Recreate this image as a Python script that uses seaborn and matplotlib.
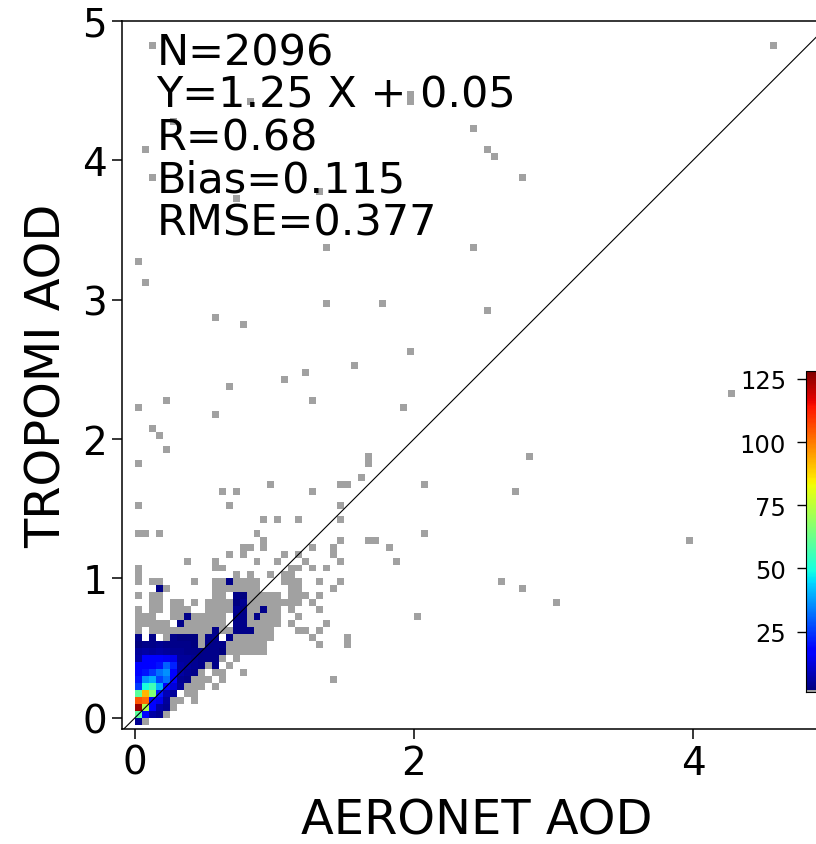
import matplotlib
matplotlib.use("Agg")
import matplotlib.pyplot as plt
from matplotlib.colors import ListedColormap
import numpy as np
import pandas as pd
import seaborn as sns

# bin size of the 2-D histogram (AOD units)
bw = 0.05

# counts per bin near the origin, one list per TROPOMI bin row,
# first row is the bin -0.05..0, then 0..0.05, ...; entries go along AERONET bins 0, 0.05, ...
core_rows = [
    [4, 1],
    [60, 18, 6, 4, 1],
    [125, 72, 16, 6, 4, 1],
    [105, 102, 16, 14, 5, 1, 1, 0, 1],
    [60, 92, 66, 20, 8, 5, 0, 1, 1],
    [25, 50, 56, 40, 16, 12, 5, 1, 1, 1, 0, 1],
    [20, 36, 40, 26, 32, 16, 4, 3, 1, 1, 1, 0, 1],
    [18, 20, 25, 32, 36, 16, 6, 4, 3, 1, 0, 1, 1, 0, 0, 1],
    [16, 16, 18, 20, 30, 22, 6, 5, 4, 3, 1, 3, 0, 1],
    [6, 16, 16, 16, 15, 14, 5, 5, 4, 3, 3, 3, 1, 0, 1],
    [5, 6, 5, 6, 5, 4, 4, 3, 3, 3, 3, 3, 2, 1, 1, 1, 1, 1, 1],
    [2, 3, 3, 4, 3, 3, 3, 3, 2, 1, 3, 3, 3, 1, 1, 1, 1, 1, 1],
    [3, 0, 3, 0, 1, 3, 2, 2, 2, 1, 3, 4, 0, 3, 1, 1, 1, 1, 1, 1],
    [1, 0, 1, 1, 1, 1, 1, 1, 1, 1, 1, 3, 1, 1, 3, 3, 3, 1, 1, 1, 0, 0, 0, 1, 1],
    [1, 1, 1, 1, 1, 0, 3, 1, 1, 1, 1, 1, 1, 0, 3, 3, 1, 1, 1, 1, 1, 0, 1],
    [1, 1, 1, 0, 0, 1, 1, 3, 1, 1, 1, 1, 1, 0, 3, 3, 1, 3, 1, 1, 1, 0, 0, 1],
    [1, 0, 1, 1, 0, 1, 1, 1, 0, 0, 1, 1, 1, 1, 4, 3, 1, 1, 3, 1, 1, 0, 1],
    [0, 0, 1, 1, 0, 1, 1, 0, 1, 0, 1, 1, 1, 1, 2, 4, 1, 1, 1, 1, 1, 1, 1, 1],
    [1, 0, 1, 1, 0, 0, 0, 0, 0, 0, 0, 1, 1, 0, 3, 2, 1, 1, 1, 1, 1, 0, 1, 1, 1],
    [0, 0, 0, 3, 1, 0, 0, 0, 0, 0, 0, 1, 1, 1, 1, 1, 1, 1, 0, 0, 0, 0, 1, 1],
    [1, 0, 1, 1, 0, 0, 0, 0, 1, 0, 0, 1, 1, 3, 1, 1, 1, 1, 0, 0, 0, 1, 1, 1],
    [1, 0, 0, 0, 0, 0, 0, 0, 0, 0, 0, 0, 0, 0, 1, 0, 1, 0, 0, 1, 0, 1, 1],
    [1, 0, 0, 0, 0, 0, 0, 0, 0, 0, 0, 1, 1, 0, 0, 0, 0, 0, 0, 0, 0, 0, 1, 1],
    [0, 0, 0, 0, 0, 0, 0, 1, 0, 0, 0, 1, 0, 0, 0, 0, 0, 1, 0, 0, 1, 0, 0, 0, 1],
    [0, 0, 0, 0, 0, 0, 0, 0, 0, 0, 0, 0, 0, 1, 0, 1, 0, 0, 0, 0, 0, 1, 0, 1],
    [0, 0, 0, 0, 0, 0, 0, 0, 0, 0, 0, 0, 0, 0, 0, 1, 1, 0, 1],
]

# single matchups further out (bin centres)
sparse_x = [0.125, 4.575, 1.975, 1.975, 0.825, 0.275, 2.425, 0.075, 2.525, 2.575,
            0.125, 2.775, 1.325, 0.725, 1.375, 2.425, 0.025, 0.075, 1.375, 1.775,
            2.525, 0.575, 0.775, 1.975, 1.575, 1.225, 1.075, 0.675, 4.275, 0.225,
            1.275, 0.025, 1.925, 0.575, 0.125, 0.175, 0.225, 2.825, 1.675, 0.025,
            1.675, 1.625, 0.975, 1.475, 1.525, 2.075, 0.625, 0.725, 1.275, 2.725,
            0.025, 0.675, 1.475, 0.925, 1.025, 1.175, 1.475, 0.025, 0.075, 0.175,
            0.875, 2.075, 0.925, 1.475, 1.675, 1.725, 3.975, 1.275, 1.425, 1.825,
            1.425, 1.475, 1.875, 1.275, 1.375, 1.325, 1.475, 2.625, 1.425, 2.775,
            1.325, 3.025, 1.275, 1.325, 2.025, 1.375, 1.325, 1.275, 1.525, 1.525,
            1.325, 1.425]
sparse_y = [4.825, 4.825, 4.475, 4.425, 4.425, 4.275, 4.225, 4.075, 4.075, 4.025,
            3.875, 3.875, 3.775, 3.725, 3.375, 3.375, 3.275, 3.125, 2.975, 2.975,
            2.925, 2.875, 2.825, 2.625, 2.525, 2.475, 2.425, 2.375, 2.325, 2.275,
            2.275, 2.225, 2.225, 2.175, 2.075, 2.025, 1.925, 1.875, 1.875, 1.825,
            1.825, 1.725, 1.675, 1.675, 1.675, 1.675, 1.625, 1.625, 1.625, 1.625,
            1.525, 1.525, 1.525, 1.425, 1.425, 1.425, 1.425, 1.325, 1.325, 1.325,
            1.325, 1.325, 1.275, 1.275, 1.275, 1.275, 1.275, 1.225, 1.225, 1.225,
            1.175, 1.125, 1.125, 1.075, 1.075, 0.975, 0.975, 0.975, 0.925, 0.925,
            0.875, 0.825, 0.825, 0.775, 0.725, 0.675, 0.625, 0.575, 0.575, 0.525,
            0.525, 0.275]

stats_lines = ["N=2096", "Y=1.25 X + 0.05", "R=0.68", "Bias=0.115", "RMSE=0.377"]
cbar_ticks = [25, 50, 75, 100, 125]
x_ticks = [0, 2, 4]
y_ticks = [0, 1, 2, 3, 4, 5]

# long table of bins
xs, ys, ns = [], [], []
for k, row in enumerate(core_rows):
    for i, n in enumerate(row):
        if n > 0:
            xs.append(i * bw + bw / 2)
            ys.append((k - 1) * bw + bw / 2)
            ns.append(n)
xs += sparse_x
ys += sparse_y
ns += [1] * len(sparse_x)
df = pd.DataFrame({"AERONET": xs, "TROPOMI": ys, "n": ns})

sns.set_style("ticks", {"axes.edgecolor": "black", "xtick.color": "black",
                        "ytick.color": "black", "text.color": "black",
                        "axes.labelcolor": "black"})
plt.rcParams["font.family"] = ["DejaVu Sans"]

# jet, with single counts shown in grey
jet = plt.get_cmap("jet")(np.linspace(0, 1, 254))
grey = np.array([[0.63, 0.63, 0.63, 1.0]] * 2)
cmap = ListedColormap(np.vstack([grey, jet]))

fig = plt.figure(figsize=(8.16, 8.45), dpi=100)
ax = fig.add_axes([0.1491, 0.1361, 0.8711, 0.838])
cax = ax.inset_axes([0.963, 0.052, 0.035, 0.453])

sns.histplot(data=df, x="AERONET", y="TROPOMI", weights="n", binwidth=bw,
             binrange=((0, 5), (-0.05, 5)), cmap=cmap, vmin=1, vmax=128,
             cbar=True, cbar_ax=cax, cbar_kws={"ticks": cbar_ticks}, ax=ax)

ax.plot([-0.1, 5], [-0.1, 5], color="black", lw=0.8)

ax.set_xlim(-0.095, 5)
ax.set_ylim(-0.08, 5)
ax.set_xticks(x_ticks)
ax.set_yticks(y_ticks)
ax.tick_params(labelsize=28, length=7, width=1.1, direction="out")
for s in ax.spines.values():
    s.set_linewidth(1.1)
    s.set_visible(True)
ax.set_xlabel("AERONET AOD", fontsize=34.5, labelpad=11)
ax.set_ylabel("TROPOMI AOD", fontsize=34.5, labelpad=8)

for k, line in enumerate(stats_lines):
    ax.text(0.049, 0.939 - 0.06 * k, line, transform=ax.transAxes,
            fontsize=31, va="baseline", ha="left")

cax.yaxis.set_ticks_position("left")
cax.tick_params(labelsize=17.5, length=6.5, width=1.0, pad=8)
cax.yaxis.set_label_position("left")

fig.savefig("out.png", dpi=100)
